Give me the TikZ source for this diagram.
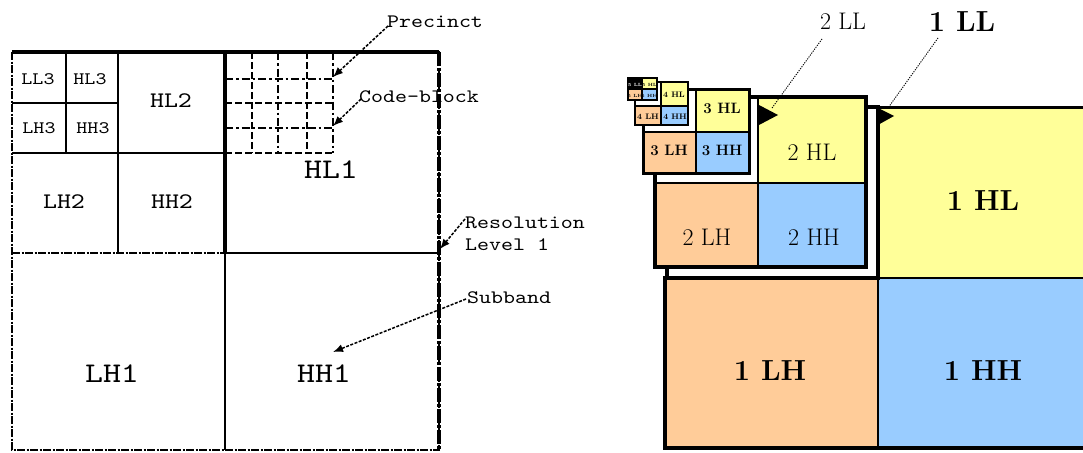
\documentclass[tikz,border=0pt]{standalone}
\usepackage{fontspec}
\newfontfamily\courfont{lmmono10-regular.otf}[FakeStretch=1.2]
\usetikzlibrary{arrows.meta}
\definecolor{yelc}{HTML}{FFFF99}
\definecolor{orac}{HTML}{FFCC99}
\definecolor{bluc}{HTML}{99CCFF}
\newcommand\wblk[7]{%
  \fill[white] (#1,#2) rectangle (#3,#4);
  \fill[yelc] (#3,#2) rectangle (#5,#4);
  \fill[orac] (#1,#4) rectangle (#3,#6);
  \fill[bluc] (#3,#4) rectangle (#5,#6);
  \draw[line width=#7*0.55pt] (#3,#2) -- (#3,#6) (#1,#4) -- (#5,#4);
  \draw[line width=#7pt] (#1,#2) rectangle (#5,#6);
}
\tikzset{
  outerb/.style={line width=2.8pt, dash pattern=on 8pt off 1.5pt on 2pt off 1.5pt},
  innerl/.style={line width=1.7pt},
  grida/.style={line width=2.2pt, dash pattern=on 8pt off 3pt on 2.5pt off 3pt},
  gridb/.style={line width=2.2pt, dash pattern=on 7pt off 3pt},
  ann/.style={line width=1.5pt, dash pattern=on 3pt off 1.5pt, -{Latex[length=10pt,width=8pt]}},
  cour/.style={font=\courfont\fontsize{19}{21}\selectfont, inner sep=0pt},
  lthree/.style={font=\courfont\fontsize{17.5}{19}\selectfont, inner sep=0pt, anchor=base},
  ltwo/.style={font=\courfont\fontsize{22.2}{24}\selectfont, inner sep=0pt, anchor=base},
  lone/.style={font=\courfont\fontsize{28.5}{30}\selectfont, inner sep=0pt, anchor=base},
  rone/.style={font=\bfseries\fontsize{29}{30}\selectfont, inner sep=0pt, anchor=base},
  rtwo/.style={font=\fontsize{24}{25}\selectfont, inner sep=0pt, anchor=base},
  rthree/.style={font=\bfseries\fontsize{15}{16}\selectfont, inner sep=0pt, anchor=base},
  rfour/.style={font=\bfseries\fontsize{8}{9}\selectfont, inner sep=0pt, anchor=base},
  rfive/.style={font=\bfseries\fontsize{4.5}{5}\selectfont, inner sep=0pt, anchor=base},
  dotl/.style={line width=0.9pt, dash pattern=on 1.2pt off 1.2pt},
}
\begin{document}
\begin{tikzpicture}[x=1pt,y=-1pt]
\path[fill=white,use as bounding box] (0,0) rectangle (1083,452);

% ---------------- left diagram ----------------
\draw[innerl] (66,52) -- (66,153);
\draw[innerl] (12,103) -- (118,103);
\draw[innerl] (118,52) -- (118,253);
\draw[innerl] (12,153) -- (225,153);
% precinct / code-block grid in HL1
\draw[gridb] (252,52) -- (252,153);
\draw[grida] (278,52) -- (278,153);
\draw[gridb] (307,52) -- (307,153);
\draw[grida] (333,52) -- (333,153);
\draw[grida] (225,79) -- (333,79);
\draw[gridb] (225,103) -- (333,103);
\draw[grida] (225,128) -- (333,128);
\draw[gridb] (225,153) -- (333,153);
% level 1 split
\draw[line width=3.5pt] (225,52) -- (225,253);
\draw[innerl] (225,253) -- (225,450);
\draw[innerl] (225,253) -- (439,253);
\draw[outerb] (12,253) -- (225,253);
\draw[outerb] (12,52) rectangle (439,450);
\draw[line width=3.5pt] (12,52) -- (439,52);
\draw[line width=3.8pt, dash pattern=on 14pt off 2pt on 3pt off 2pt] (439,52) -- (439,450);

\node[lthree] (ll3) at (38,84) {LL3};
\node[lthree] (hl3) at (90,84) {HL3};
\node[lthree] (lh3) at (39,133) {LH3};
\node[lthree] (hh3) at (93,133) {HH3};
\node[ltwo] (hl2) at (171,107) {HL2};
\node[ltwo] (lh2) at (64,208) {LH2};
\node[ltwo] (hh2) at (172,208) {HH2};
\node[lone] (hl1) at (331,178) {HL1};
\node[lone] (lh1) at (112,382) {LH1};
\node[lone] (hh1) at (324,382) {HH1};

\node[cour, anchor=base west] (prec) at (387,28) {Precinct};
\node[cour, anchor=base west] (cblk) at (359,102) {Code-block};
\node[cour, anchor=base west] (res) at (465,228) {Resolution};
\node[cour, anchor=base west] (lev) at (465,250) {Level 1};
\node[cour, anchor=base west] (sub) at (467,303) {Subband};

\coordinate (precS) at (388,26);
\coordinate (precT) at (333,77);
\coordinate (cblkS) at (361,99);
\coordinate (cblkT) at (333,126);
\coordinate (resS) at (465,219);
\coordinate (resT) at (440,249);
\coordinate (subS) at (466,299);
\coordinate (subT) at (333,352);
\draw[ann] (precS) -- (precT);
\draw[ann] (cblkS) -- (cblkT);
\draw[ann] (resS) -- (resT);
\draw[ann] (subS) -- (subT);

% ---------------- right diagram ----------------
\fill[bluc] (878,278) rectangle (1083,448);
\fill[orac] (665,278) rectangle (878,448);
\fill[yelc] (878,107) rectangle (1083,278);
\draw[line width=2pt] (665,278) -- (1083,278);
\draw[line width=2pt] (878,278) -- (878,448);
\draw[line width=4pt] (665,276) -- (665,448) -- (1083,448);
\draw[line width=3pt] (877,107) -- (1083,107);
\draw[line width=3.5pt, fill=white] (667,107) rectangle (878,278);

\wblk{655}{97}{758}{183}{866}{267}{3.5}
\wblk{643}{89}{696}{132}{749}{173}{3}
\wblk{635}{82}{661}{106}{688}{125}{2.5}
\fill[black] (628,78) rectangle (642,89);
\fill[yelc] (642,78) rectangle (657,89);
\fill[orac] (628,89) rectangle (642,100);
\fill[bluc] (642,89) rectangle (657,100);
\draw[line width=1.5pt] (642,78) -- (642,100) (628,89) -- (657,89);
\draw[line width=2pt] (628,78) rectangle (657,100);

\node[rone] (r1hl) at (983,210) {1 HL};
\node[rone] (r1lh) at (770,380) {1 LH};
\node[rone] (r1hh) at (983,380) {1 HH};
\node[rtwo] (r2hl) at (812,160) {2 HL};
\node[rtwo] (r2lh) at (707,245) {2 LH};
\node[rtwo] (r2hh) at (814,245) {2 HH};
\node[rthree] (r3hl) at (722,113) {3 HL};
\node[rthree] (r3lh) at (669,155) {3 LH};
\node[rthree] (r3hh) at (722,155) {3 HH};
\node[rfour] (r4hl) at (674,97) {4 HL};
\node[rfour] (r4lh) at (648,119) {4 LH};
\node[rfour] (r4hh) at (675,119) {4 HH};
\node[rfive, text=white] (r5ll) at (635,86) {5 LL};
\node[rfive] (r5hl) at (649.5,86) {5 HL};
\node[rfive] (r5lh) at (635,97) {5 LH};
\node[rfive] (r5hh) at (649.5,97) {5 HH};

\node[rtwo] (l2ll) at (843,30) {2 LL};
\node[rone] (l1ll) at (962,32) {1 LL};
\coordinate (a2S) at (822,39);
\coordinate (a2T) at (772,108);
\coordinate (a1S) at (938,38);
\coordinate (a1T) at (888,108);
\draw[dotl] (a2S) -- (a2T);
\draw[dotl] (a1S) -- (a1T);
\fill (759,105) -- (778,115) -- (759,125) -- cycle;
\fill (876,107) -- (894,116) -- (876,126) -- cycle;
\end{tikzpicture}
\end{document}
